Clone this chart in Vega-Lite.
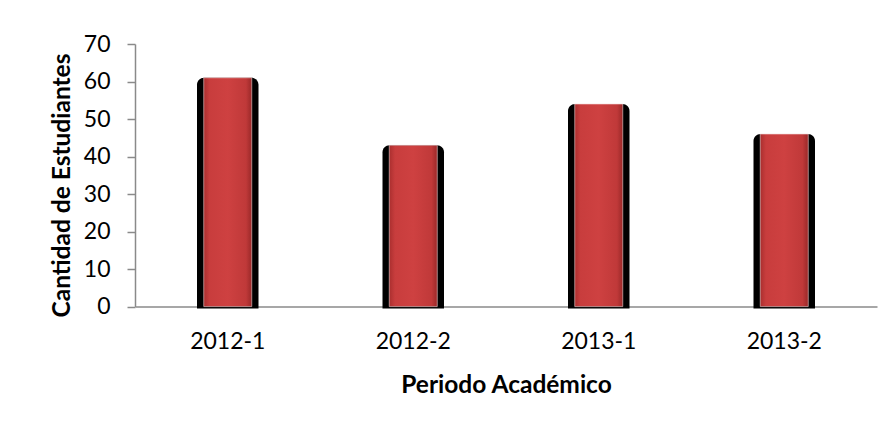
{
  "$schema": "https://vega.github.io/schema/vega-lite/v6.json",
  "width": 742,
  "height": 262.6,
  "autosize": {"type": "none"},
  "padding": {"left": 135, "top": 44, "right": 16, "bottom": 117.4},
  "background": "white",
  "config": {"view": {"stroke": null}, "font": "Lato"},
  "data": {
    "values": [
      {"periodo": "2012-1", "estudiantes": 61},
      {"periodo": "2012-2", "estudiantes": 43},
      {"periodo": "2013-1", "estudiantes": 54},
      {"periodo": "2013-2", "estudiantes": 46}
    ]
  },
  "encoding": {
    "x": {
      "field": "periodo",
      "type": "nominal",
      "sort": null,
      "scale": {"paddingInner": 0, "paddingOuter": 0},
      "axis": {
        "title": "Periodo Académico",
        "labelAngle": 0,
        "ticks": false,
        "tickSize": 0,
        "domainColor": "#8a8a8a",
        "domainWidth": 1.5,
        "labelFontSize": 23,
        "labelColor": "#000000",
        "labelPadding": 24,
        "titleFontSize": 24.5,
        "titleFontWeight": "bold",
        "titleColor": "#000000",
        "titlePadding": 20
      }
    },
    "y": {
      "field": "estudiantes",
      "type": "quantitative",
      "scale": {"domain": [0, 70]},
      "axis": {
        "title": "Cantidad de Estudiantes",
        "values": [0, 10, 20, 30, 40, 50, 60, 70],
        "grid": false,
        "domainColor": "#8a8a8a",
        "domainWidth": 1.5,
        "tickColor": "#8a8a8a",
        "tickSize": 8,
        "tickWidth": 1.5,
        "labelFontSize": 23,
        "labelColor": "#000000",
        "labelPadding": 17,
        "titleFontSize": 24.5,
        "titleFontWeight": "bold",
        "titleColor": "#000000",
        "titlePadding": 9,
        "titleY": 141
      }
    }
  },
  "layer": [
    {
      "mark": {"type": "bar", "color": "#000000", "width": 61.5, "cornerRadiusTopLeft": 7, "cornerRadiusTopRight": 7},
      "encoding": {"y2": {"datum": -0.5}}
    },
    {
      "mark": {
        "type": "bar",
        "width": 48,
        "stroke": "#f3d6d6",
        "strokeWidth": 0.6,
        "fill": {
          "gradient": "linear",
          "x1": 0, "x2": 1, "y1": 0, "y2": 0,
          "stops": [
            {"offset": 0, "color": "#aa2f2f"},
            {"offset": 0.12, "color": "#c83d3d"},
            {"offset": 0.5, "color": "#ce4141"},
            {"offset": 0.88, "color": "#c03939"},
            {"offset": 1, "color": "#9a2828"}
          ]
        }
      }
    }
  ]
}
